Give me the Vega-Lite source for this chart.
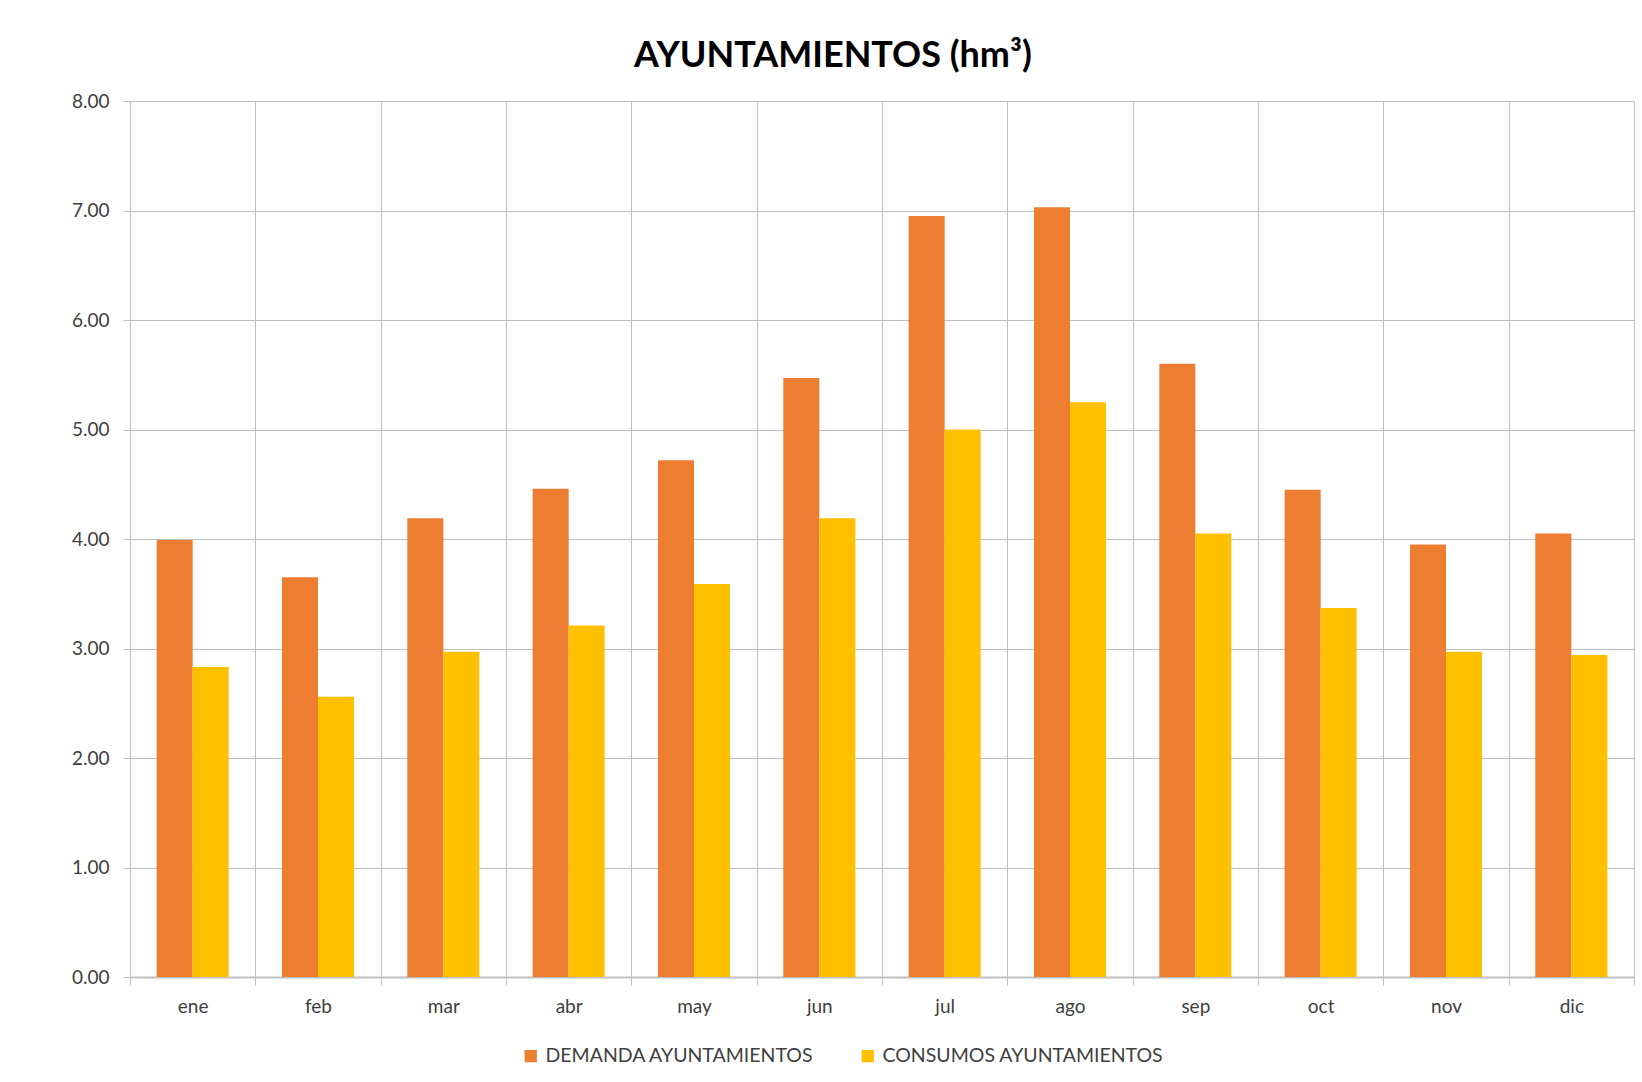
{
  "$schema": "https://vega.github.io/schema/vega-lite/v6.json",
  "autosize": "none",
  "width": 1504,
  "height": 876,
  "padding": {"left": 130, "top": 101, "right": 8, "bottom": 105},
  "background": "white",
  "title": {
    "text": "AYUNTAMIENTOS (hm³)",
    "font": "Lato",
    "fontSize": 36,
    "fontWeight": "bold",
    "color": "#000000",
    "anchor": "middle",
    "dx": -49,
    "offset": 17
  },
  "data": {
    "values": [
      {"mes": "ene", "serie": "DEMANDA AYUNTAMIENTOS", "valor": 3.99},
      {"mes": "ene", "serie": "CONSUMOS AYUNTAMIENTOS", "valor": 2.83},
      {"mes": "feb", "serie": "DEMANDA AYUNTAMIENTOS", "valor": 3.65},
      {"mes": "feb", "serie": "CONSUMOS AYUNTAMIENTOS", "valor": 2.56},
      {"mes": "mar", "serie": "DEMANDA AYUNTAMIENTOS", "valor": 4.19},
      {"mes": "mar", "serie": "CONSUMOS AYUNTAMIENTOS", "valor": 2.97},
      {"mes": "abr", "serie": "DEMANDA AYUNTAMIENTOS", "valor": 4.46},
      {"mes": "abr", "serie": "CONSUMOS AYUNTAMIENTOS", "valor": 3.21},
      {"mes": "may", "serie": "DEMANDA AYUNTAMIENTOS", "valor": 4.72},
      {"mes": "may", "serie": "CONSUMOS AYUNTAMIENTOS", "valor": 3.59},
      {"mes": "jun", "serie": "DEMANDA AYUNTAMIENTOS", "valor": 5.47},
      {"mes": "jun", "serie": "CONSUMOS AYUNTAMIENTOS", "valor": 4.19},
      {"mes": "jul", "serie": "DEMANDA AYUNTAMIENTOS", "valor": 6.95},
      {"mes": "jul", "serie": "CONSUMOS AYUNTAMIENTOS", "valor": 5.0},
      {"mes": "ago", "serie": "DEMANDA AYUNTAMIENTOS", "valor": 7.03},
      {"mes": "ago", "serie": "CONSUMOS AYUNTAMIENTOS", "valor": 5.25},
      {"mes": "sep", "serie": "DEMANDA AYUNTAMIENTOS", "valor": 5.6},
      {"mes": "sep", "serie": "CONSUMOS AYUNTAMIENTOS", "valor": 4.05},
      {"mes": "oct", "serie": "DEMANDA AYUNTAMIENTOS", "valor": 4.45},
      {"mes": "oct", "serie": "CONSUMOS AYUNTAMIENTOS", "valor": 3.37},
      {"mes": "nov", "serie": "DEMANDA AYUNTAMIENTOS", "valor": 3.95},
      {"mes": "nov", "serie": "CONSUMOS AYUNTAMIENTOS", "valor": 2.97},
      {"mes": "dic", "serie": "DEMANDA AYUNTAMIENTOS", "valor": 4.05},
      {"mes": "dic", "serie": "CONSUMOS AYUNTAMIENTOS", "valor": 2.94}
    ]
  },
  "mark": {"type": "bar"},
  "encoding": {
    "x": {
      "field": "mes",
      "type": "nominal",
      "sort": ["ene","feb","mar","abr","may","jun","jul","ago","sep","oct","nov","dic"],
      "scale": {"paddingInner": 0, "paddingOuter": 0},
      "axis": {
        "title": null,
        "labelAngle": 0,
        "grid": true,
        "tickBand": "extent",
        "gridColor": "#BFBFBF",
        "gridWidth": 1,
        "domainColor": "#BFBFBF",
        "domainWidth": 2,
        "tickColor": "#BFBFBF",
        "tickSize": 8,
        "labelFont": "Lato",
        "labelFontSize": 19,
        "labelColor": "#404040",
        "labelPadding": 12
      }
    },
    "xOffset": {
      "field": "serie",
      "type": "nominal",
      "sort": ["DEMANDA AYUNTAMIENTOS", "CONSUMOS AYUNTAMIENTOS"],
      "scale": {"paddingInner": 0, "paddingOuter": 0.74}
    },
    "y": {
      "field": "valor",
      "type": "quantitative",
      "scale": {"domain": [0, 8], "nice": false},
      "axis": {
        "title": null,
        "values": [0,1,2,3,4,5,6,7,8],
        "format": ".2f",
        "grid": true,
        "gridColor": "#BFBFBF",
        "gridWidth": 1,
        "domainColor": "#BFBFBF",
        "tickColor": "#BFBFBF",
        "tickSize": 7,
        "labelFont": "Lato",
        "labelFontSize": 19,
        "labelColor": "#404040",
        "labelPadding": 14
      }
    },
    "color": {
      "field": "serie",
      "type": "nominal",
      "sort": ["DEMANDA AYUNTAMIENTOS", "CONSUMOS AYUNTAMIENTOS"],
      "scale": {"domain": ["DEMANDA AYUNTAMIENTOS", "CONSUMOS AYUNTAMIENTOS"], "range": ["#ED7D31", "#FFC000"]},
      "legend": {
        "title": null,
        "orient": "none",
        "direction": "horizontal",
        "legendX": 391,
        "legendY": 945,
        "symbolType": "square",
        "symbolSize": 150,
        "symbolStrokeWidth": 0,
        "labelFont": "Lato",
        "labelFontSize": 19.5,
        "labelLimit": 0,
        "labelColor": "#404040",
        "columnPadding": 44,
        "labelOffset": 5
      }
    }
  },
  "config": {
    "view": {"stroke": null}
  }
}
